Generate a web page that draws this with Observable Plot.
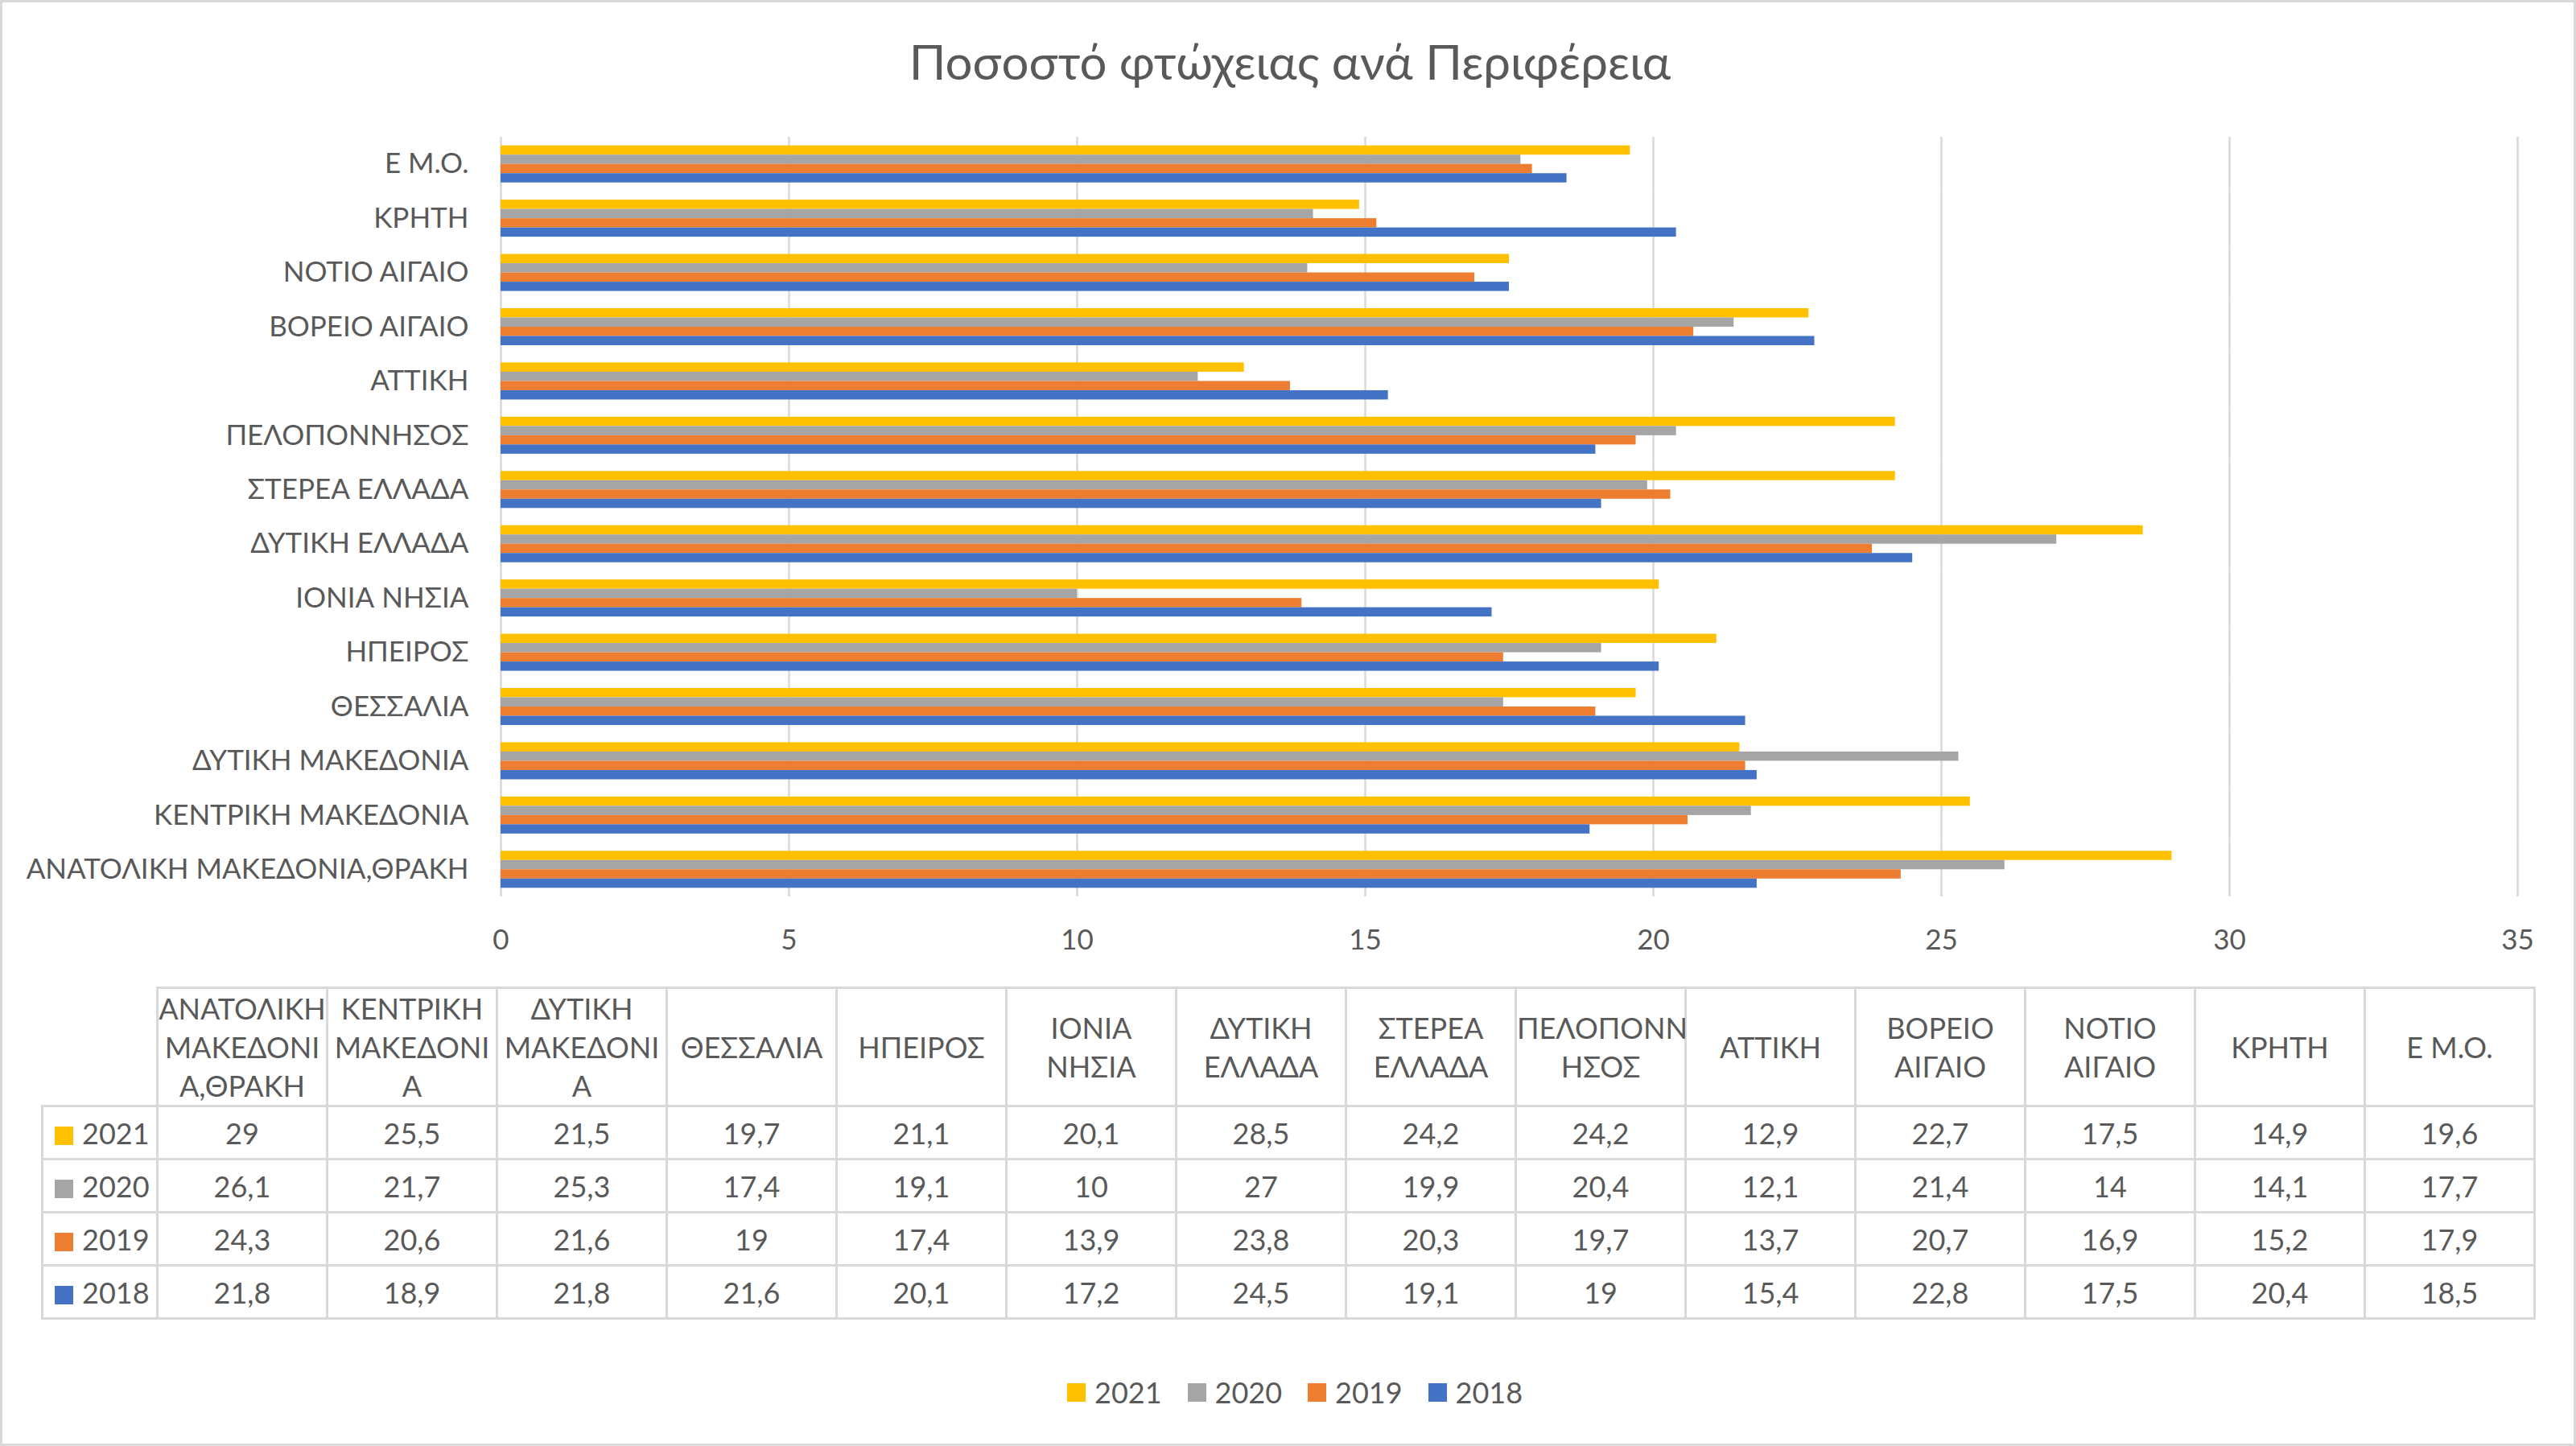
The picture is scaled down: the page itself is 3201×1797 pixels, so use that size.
<!DOCTYPE html>
<html>
<head>
<meta charset="utf-8">
<script src="https://cdn.jsdelivr.net/npm/d3@7"></script>
<script src="https://cdn.jsdelivr.net/npm/@observablehq/plot@0.6"></script>
<style>
  html, body { margin: 0; padding: 0; background: #fff; }
  #chart { position: relative; width: 3201px; height: 1797px; background: #fff; font-family: Lato, "Open Sans", "Noto Sans", sans-serif; color: #595959; overflow: hidden; }
  #frame { position: absolute; left: 0; top: 0; width: 3195px; height: 1791px; border: 3px solid #D9D9D9; pointer-events: none; }
  #title { position: absolute; left: 0; top: 46px; width: 3206px; text-align: center; font-size: 60px; line-height: 60px; white-space: nowrap; }
  #plot { position: absolute; left: 0; top: 0; }
  #table { position: absolute; left: 51px; top: 1226px; width: 3097px; border-collapse: collapse; table-layout: fixed; font-size: 36px; color: #595959; }
  #table td { border: 3px solid #D9D9D9; padding: 0; text-align: center; vertical-align: middle; white-space: pre; box-sizing: border-box; }
  #table tr.head td { height: 147px; line-height: 48px; }
  #table tr.row td { height: 66px; line-height: 40px; }
  #table td.blank { border-top: none; border-left: none; }
  #table td.lab { text-align: left; padding-left: 14px; }
  .sw { display: inline-block; width: 23px; height: 23px; margin-right: 11px; vertical-align: -1px; }
  #legend { position: absolute; left: 1326px; top: 1708px; display: flex; align-items: center; font-size: 36px; line-height: 44px; }
  #legend .item { display: flex; align-items: center; margin-right: 32px; }
  #legend .item .sw { margin-right: 11px; }
</style>
</head>
<body>
<div id="chart">
  <div id="title"></div>
  <div id="plot"></div>
  <table id="table"></table>
  <div id="legend"></div>
  <div id="frame"></div>
</div>
<script>
// ---- Data (table order, as in the reference data table) ----
const chartTitle = "Ποσοστό φτώχειας ανά Περιφέρεια";
const regions = [
  "ΑΝΑΤΟΛΙΚΗ ΜΑΚΕΔΟΝΙΑ,ΘΡΑΚΗ", "ΚΕΝΤΡΙΚΗ ΜΑΚΕΔΟΝΙΑ", "ΔΥΤΙΚΗ ΜΑΚΕΔΟΝΙΑ", "ΘΕΣΣΑΛΙΑ",
  "ΗΠΕΙΡΟΣ", "ΙΟΝΙΑ ΝΗΣΙΑ", "ΔΥΤΙΚΗ ΕΛΛΑΔΑ", "ΣΤΕΡΕΑ ΕΛΛΑΔΑ", "ΠΕΛΟΠΟΝΝΗΣΟΣ",
  "ΑΤΤΙΚΗ", "ΒΟΡΕΙΟ ΑΙΓΑΙΟ", "ΝΟΤΙΟ ΑΙΓΑΙΟ", "ΚΡΗΤΗ", "Ε Μ.Ο."
];
// wrapped header labels as they appear in the data table
const tableHeaders = [
  "ΑΝΑΤΟΛΙΚΗ\nΜΑΚΕΔΟΝΙ\nΑ,ΘΡΑΚΗ", "ΚΕΝΤΡΙΚΗ\nΜΑΚΕΔΟΝΙ\nΑ", "ΔΥΤΙΚΗ\nΜΑΚΕΔΟΝΙ\nΑ", "ΘΕΣΣΑΛΙΑ",
  "ΗΠΕΙΡΟΣ", "ΙΟΝΙΑ\nΝΗΣΙΑ", "ΔΥΤΙΚΗ\nΕΛΛΑΔΑ", "ΣΤΕΡΕΑ\nΕΛΛΑΔΑ", "ΠΕΛΟΠΟΝΝ\nΗΣΟΣ",
  "ΑΤΤΙΚΗ", "ΒΟΡΕΙΟ\nΑΙΓΑΙΟ", "ΝΟΤΙΟ\nΑΙΓΑΙΟ", "ΚΡΗΤΗ", "Ε Μ.Ο."
];
const years = ["2021", "2020", "2019", "2018"];
const v2021 = [29, 25.5, 21.5, 19.7, 21.1, 20.1, 28.5, 24.2, 24.2, 12.9, 22.7, 17.5, 14.9, 19.6];
const v2020 = [26.1, 21.7, 25.3, 17.4, 19.1, 10, 27, 19.9, 20.4, 12.1, 21.4, 14, 14.1, 17.7];
const v2019 = [24.3, 20.6, 21.6, 19, 17.4, 13.9, 23.8, 20.3, 19.7, 13.7, 20.7, 16.9, 15.2, 17.9];
const v2018 = [21.8, 18.9, 21.8, 21.6, 20.1, 17.2, 24.5, 19.1, 19, 15.4, 22.8, 17.5, 20.4, 18.5];
const xTicks = [0, 5, 10, 15, 20, 25, 30, 35];
const colors = ["#FFC000", "#A5A5A5", "#ED7D31", "#4472C4"];

const series = [v2021, v2020, v2019, v2018];
const data = regions.flatMap((r, i) => years.map((y, j) => ({region: r, year: y, value: series[j][i]})));
const chartOrder = regions.slice().reverse();
const fmt = v => String(v).replace(".", ",");
const FONT = 'Lato, "Open Sans", "Noto Sans", sans-serif';

document.getElementById("title").textContent = chartTitle;

const plot = Plot.plot({
  width: 3201,
  height: 1200,
  marginTop: 170,
  marginBottom: 86,
  marginLeft: 622,
  marginRight: 73,
  style: {fontFamily: FONT, fontSize: "35px", color: "#595959", background: "transparent", overflow: "visible"},
  x: {domain: [0, 35], ticks: xTicks, tickSize: 0, tickPadding: 41, label: null},
  y: {domain: years, axis: null, paddingInner: 0, paddingOuter: 0.93, round: false},
  fy: {domain: chartOrder, paddingInner: 0, paddingOuter: 0, round: false, label: null, tickSize: 0, tickPadding: 40, axis: "left"},
  color: {domain: years, range: colors},
  marks: [
    Plot.gridX(xTicks, {stroke: "#D9D9D9", strokeOpacity: 1, strokeWidth: 2.5}),
    Plot.barX(data, {x: "value", y: "year", fy: "region", fill: "year"})
  ]
});
document.getElementById("plot").appendChild(plot);

// ---- data table ----
const table = document.getElementById("table");
const cg = document.createElement("colgroup");
[143, ...regions.map(() => 211)].forEach(w => { const c = document.createElement("col"); c.style.width = w + "px"; cg.appendChild(c); });
table.appendChild(cg);
const head = document.createElement("tr"); head.className = "head";
const blank = document.createElement("td"); blank.className = "blank"; head.appendChild(blank);
tableHeaders.forEach(h => { const td = document.createElement("td"); td.textContent = h; head.appendChild(td); });
table.appendChild(head);
years.forEach((y, j) => {
  const tr = document.createElement("tr"); tr.className = "row";
  const lab = document.createElement("td"); lab.className = "lab";
  const sw = document.createElement("span"); sw.className = "sw"; sw.style.background = colors[j];
  lab.appendChild(sw); lab.appendChild(document.createTextNode(y));
  tr.appendChild(lab);
  series[j].forEach(v => { const td = document.createElement("td"); td.textContent = fmt(v); tr.appendChild(td); });
  table.appendChild(tr);
});

// ---- legend ----
const legend = document.getElementById("legend");
years.forEach((y, j) => {
  const it = document.createElement("div"); it.className = "item";
  const sw = document.createElement("span"); sw.className = "sw"; sw.style.background = colors[j];
  it.appendChild(sw); it.appendChild(document.createTextNode(y));
  legend.appendChild(it);
});
</script>
</body>
</html>
